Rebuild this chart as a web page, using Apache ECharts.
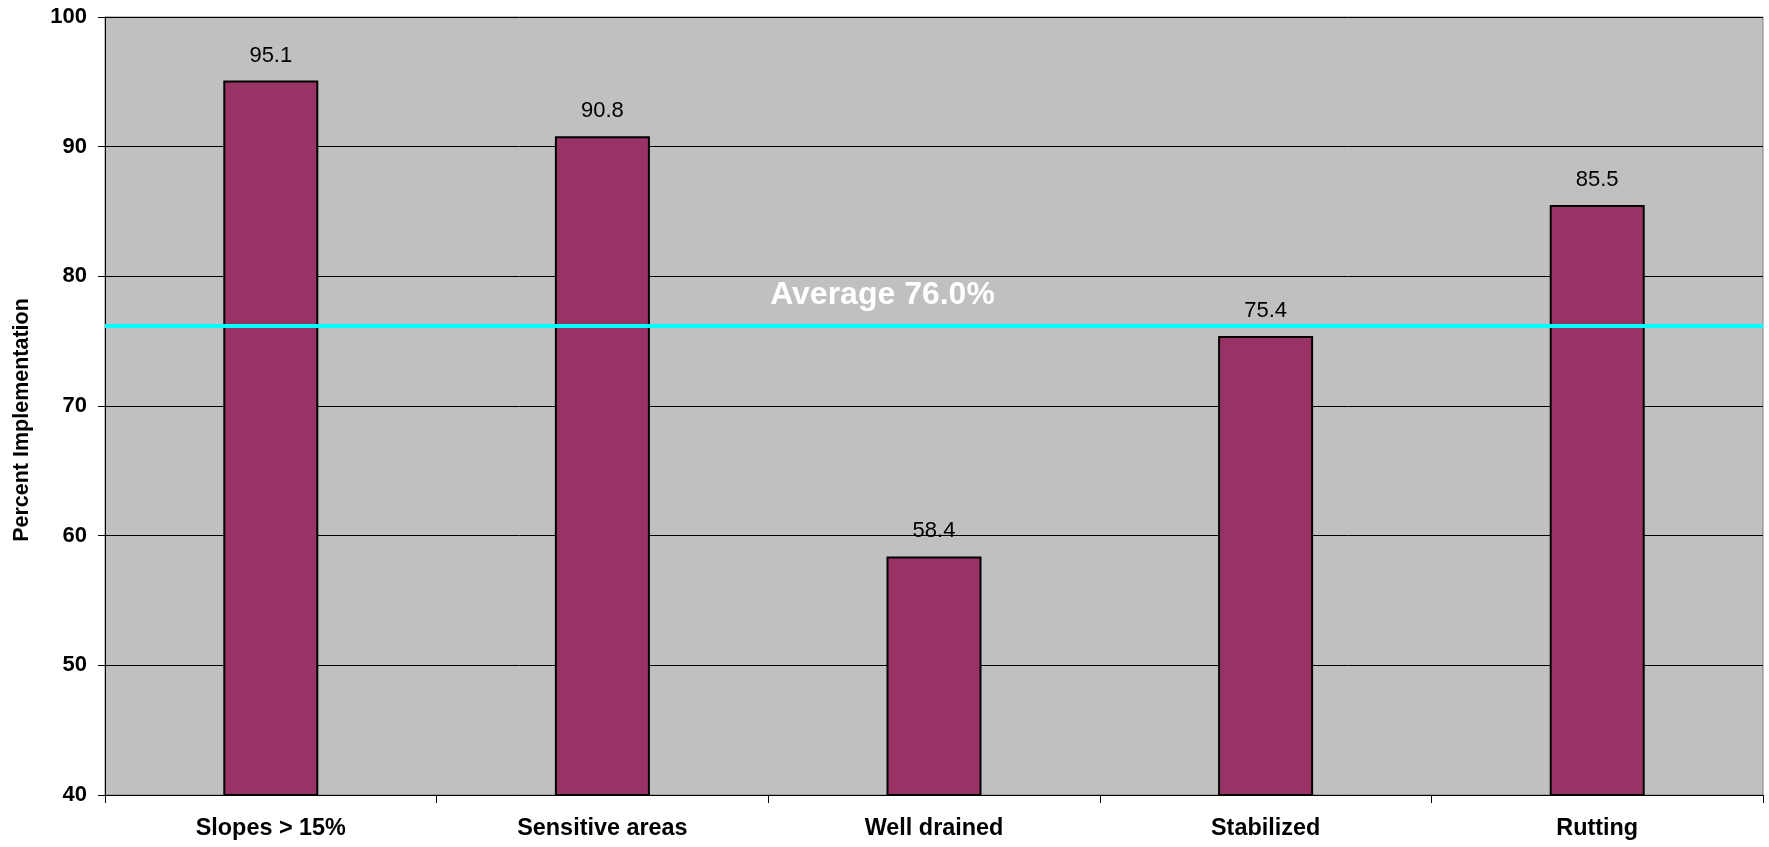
<!DOCTYPE html>
<html>
<head>
<meta charset="utf-8">
<script src="https://cdn.jsdelivr.net/npm/echarts@6/dist/echarts.min.js"></script>
<style>
html,body{margin:0;padding:0;background:#fff;}
#chart{width:1769px;height:847px;}
</style>
</head>
<body>
<div id="chart"></div>
<script>
const categories = ['Slopes > 15%', 'Sensitive areas', 'Well drained', 'Stabilized', 'Rutting'];
const values = [95.1, 90.8, 58.4, 75.4, 85.5];
const yTicks = [40, 50, 60, 70, 80, 90, 100];
const averageLine = 76.2;
const averageText = 'Average 76.0%';
const yAxisTitle = 'Percent Implementation';

const FONT = '"Liberation Sans", Arial, sans-serif';
const chart = echarts.init(document.getElementById('chart'), null, {renderer: 'canvas'});
chart.setOption({
  animation: false,
  backgroundColor: '#ffffff',
  grid: {
    left: 105, right: 6, top: 17, bottom: 52,
    show: true, backgroundColor: '#C0C0C0', borderColor: '#808080', borderWidth: 1
  },
  xAxis: {
    type: 'category',
    data: categories,
    axisLine: {show: true, lineStyle: {color: '#000', width: 1}},
    axisTick: {show: true, length: 8, lineStyle: {color: '#000'}},
    axisLabel: {
      color: '#000', fontFamily: FONT, fontWeight: 'bold', fontSize: 23.4, margin: 22
    },
    splitLine: {show: false}
  },
  yAxis: {
    type: 'value',
    min: yTicks[0], max: yTicks[yTicks.length - 1], interval: 10,
    name: yAxisTitle,
    nameLocation: 'middle',
    nameGap: 72,
    nameTextStyle: {
      color: '#000', fontFamily: FONT, fontWeight: 'bold', fontSize: 21.5,
      padding: [0, 28, 0, 0]
    },
    axisLine: {show: true, lineStyle: {color: '#000', width: 1}},
    axisTick: {show: true, inside: false, length: 7, lineStyle: {color: '#000'}},
    axisLabel: {
      color: '#000', fontFamily: FONT, fontWeight: 'bold', fontSize: 22, margin: 18
    },
    splitLine: {show: true, lineStyle: {color: '#000', width: 1}}
  },
  series: [{
    type: 'bar',
    data: values,
    barWidth: 95,
    itemStyle: {color: '#993366', borderColor: '#000', borderWidth: 2},
    label: {
      show: true, position: 'top', distance: 14,
      color: '#000', fontFamily: FONT, fontSize: 22,
      formatter: p => p.value.toFixed(1)
    },
    markLine: {
      silent: true,
      symbol: ['none', 'none'],
      lineStyle: {color: '#00FFFF', width: 4, type: 'solid'},
      label: {
        show: true,
        position: 'insideMiddleTop',
        distance: 14,
        formatter: averageText,
        color: '#ffffff', fontFamily: FONT, fontWeight: 'bold', fontSize: 32,
        padding: [0, 103, 0, 0]
      },
      data: [{yAxis: averageLine}]
    }
  }]
});
</script>
</body>
</html>
